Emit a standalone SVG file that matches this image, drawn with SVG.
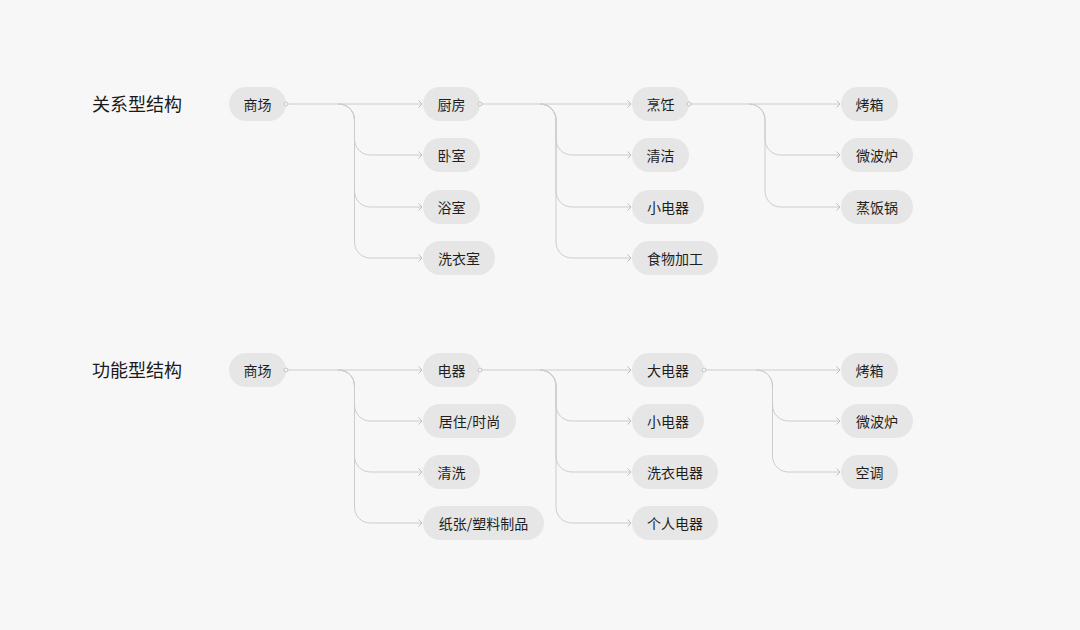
<svg xmlns="http://www.w3.org/2000/svg" width="1080" height="630" viewBox="0 0 1080 630">
<defs>
<style>
.bg{fill:#f7f7f7}
.pill rect{fill:#e6e6e6}
.pill text{font-family:"Noto Sans CJK SC","Noto Sans",sans-serif;font-size:14px;fill:#1f1f1f;text-anchor:middle;dominant-baseline:central}
.title{font-family:"Noto Sans CJK SC","Noto Sans",sans-serif;font-size:18px;fill:#1a1a1a;dominant-baseline:central}
.edge{fill:none;stroke:#cccccc;stroke-width:1;marker-end:url(#arr)}
.dot{fill:#f7f7f7;stroke:#c4c4c4;stroke-width:1}
</style>
<marker id="arr" markerUnits="userSpaceOnUse" markerWidth="8" markerHeight="10" viewBox="0 0 8 10" refX="5" refY="5" orient="auto">
<path d="M1.5,1.5 L5,5 L1.5,8.5" fill="none" stroke="#bdbdbd" stroke-width="1"/>
</marker>
</defs>
<rect class="bg" x="0" y="0" width="1080" height="630"/>
<text class="title" x="92" y="103">关系型结构</text>
<text class="title" x="92" y="369">功能型结构</text>

<g id="connectors">
<path class="edge" d="M288 104 H422"/>
<path class="edge" d="M338.5 104 C347.5 104 354.5 111 354.5 120 V139 C354.5 148 361.5 155 370.5 155 H422"/>
<path class="edge" d="M338.5 104 C347.5 104 354.5 111 354.5 120 V191 C354.5 200 361.5 207 370.5 207 H422"/>
<path class="edge" d="M338.5 104 C347.5 104 354.5 111 354.5 120 V242 C354.5 251 361.5 258 370.5 258 H422"/>
<path class="edge" d="M482 104 H631"/>
<path class="edge" d="M540 104 C549 104 556 111 556 120 V139 C556 148 563 155 572 155 H631"/>
<path class="edge" d="M540 104 C549 104 556 111 556 120 V191 C556 200 563 207 572 207 H631"/>
<path class="edge" d="M540 104 C549 104 556 111 556 120 V242 C556 251 563 258 572 258 H631"/>
<path class="edge" d="M691 104 H840"/>
<path class="edge" d="M749 104 C758 104 765 111 765 120 V139 C765 148 772 155 781 155 H840"/>
<path class="edge" d="M749 104 C758 104 765 111 765 120 V191 C765 200 772 207 781 207 H840"/>
<path class="edge" d="M288 370 H422"/>
<path class="edge" d="M338.5 370 C347.5 370 354.5 377 354.5 386 V405 C354.5 414 361.5 421 370.5 421 H422"/>
<path class="edge" d="M338.5 370 C347.5 370 354.5 377 354.5 386 V456 C354.5 465 361.5 472 370.5 472 H422"/>
<path class="edge" d="M338.5 370 C347.5 370 354.5 377 354.5 386 V507 C354.5 516 361.5 523 370.5 523 H422"/>
<path class="edge" d="M482 370 H631"/>
<path class="edge" d="M540 370 C549 370 556 377 556 386 V405 C556 414 563 421 572 421 H631"/>
<path class="edge" d="M540 370 C549 370 556 377 556 386 V456 C556 465 563 472 572 472 H631"/>
<path class="edge" d="M540 370 C549 370 556 377 556 386 V507 C556 516 563 523 572 523 H631"/>
<path class="edge" d="M706 370 H840"/>
<path class="edge" d="M756.5 370 C765.5 370 772.5 377 772.5 386 V405 C772.5 414 779.5 421 788.5 421 H840"/>
<path class="edge" d="M756.5 370 C765.5 370 772.5 377 772.5 386 V456 C772.5 465 779.5 472 788.5 472 H840"/>
</g>

<g id="n-r1-shangchang" class="pill"><rect x="229" y="87" width="57" height="34" rx="17"/><text x="257.5" y="104">商场</text></g>
<g id="n-r1-chufang" class="pill"><rect x="423" y="87" width="57" height="34" rx="17"/><text x="451.5" y="104">厨房</text></g>
<g id="n-r1-woshi" class="pill"><rect x="423" y="138" width="57" height="34" rx="17"/><text x="451.5" y="155">卧室</text></g>
<g id="n-r1-yushi" class="pill"><rect x="423" y="190" width="57" height="34" rx="17"/><text x="451.5" y="207">浴室</text></g>
<g id="n-r1-xiyishi" class="pill"><rect x="423" y="241" width="72" height="34" rx="17"/><text x="459" y="258">洗衣室</text></g>
<g id="n-r1-pengren" class="pill"><rect x="632" y="87" width="57" height="34" rx="17"/><text x="660.5" y="104">烹饪</text></g>
<g id="n-r1-qingjie" class="pill"><rect x="632" y="138" width="57" height="34" rx="17"/><text x="660.5" y="155">清洁</text></g>
<g id="n-r1-xiaodianqi" class="pill"><rect x="632" y="190" width="72" height="34" rx="17"/><text x="668" y="207">小电器</text></g>
<g id="n-r1-shiwujiagong" class="pill"><rect x="632" y="241" width="86" height="34" rx="17"/><text x="675" y="258">食物加工</text></g>
<g id="n-r1-kaoxiang" class="pill"><rect x="841" y="87" width="57" height="34" rx="17"/><text x="869.5" y="104">烤箱</text></g>
<g id="n-r1-weibolu" class="pill"><rect x="841" y="138" width="72" height="34" rx="17"/><text x="877" y="155">微波炉</text></g>
<g id="n-r1-zhengfanguo" class="pill"><rect x="841" y="190" width="72" height="34" rx="17"/><text x="877" y="207">蒸饭锅</text></g>

<g id="n-r2-shangchang" class="pill"><rect x="229" y="353" width="57" height="34" rx="17"/><text x="257.5" y="370">商场</text></g>
<g id="n-r2-dianqi" class="pill"><rect x="423" y="353" width="57" height="34" rx="17"/><text x="451.5" y="370">电器</text></g>
<g id="n-r2-juzhu" class="pill"><rect x="423" y="404" width="93" height="34" rx="17"/><text x="469.5" y="421">居住/时尚</text></g>
<g id="n-r2-qingxi" class="pill"><rect x="423" y="455" width="57" height="34" rx="17"/><text x="451.5" y="472">清洗</text></g>
<g id="n-r2-zhizhang" class="pill"><rect x="423" y="506" width="121" height="34" rx="17"/><text x="483.5" y="523">纸张/塑料制品</text></g>
<g id="n-r2-dadianqi" class="pill"><rect x="632" y="353" width="72" height="34" rx="17"/><text x="668" y="370">大电器</text></g>
<g id="n-r2-xiaodianqi" class="pill"><rect x="632" y="404" width="72" height="34" rx="17"/><text x="668" y="421">小电器</text></g>
<g id="n-r2-xiyidianqi" class="pill"><rect x="632" y="455" width="86" height="34" rx="17"/><text x="675" y="472">洗衣电器</text></g>
<g id="n-r2-gerendianqi" class="pill"><rect x="632" y="506" width="86" height="34" rx="17"/><text x="675" y="523">个人电器</text></g>
<g id="n-r2-kaoxiang" class="pill"><rect x="841" y="353" width="57" height="34" rx="17"/><text x="869.5" y="370">烤箱</text></g>
<g id="n-r2-weibolu" class="pill"><rect x="841" y="404" width="72" height="34" rx="17"/><text x="877" y="421">微波炉</text></g>
<g id="n-r2-kongtiao" class="pill"><rect x="841" y="455" width="57" height="34" rx="17"/><text x="869.5" y="472">空调</text></g>

<g id="dots">
<circle class="dot" cx="286" cy="104" r="2"/>
<circle class="dot" cx="480" cy="104" r="2"/>
<circle class="dot" cx="689" cy="104" r="2"/>
<circle class="dot" cx="286" cy="370" r="2"/>
<circle class="dot" cx="480" cy="370" r="2"/>
<circle class="dot" cx="704" cy="370" r="2"/>
</g>
</svg>
